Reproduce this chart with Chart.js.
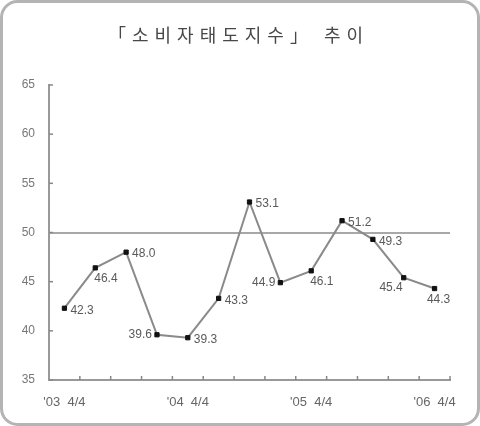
<!DOCTYPE html>
<html>
<head>
<meta charset="utf-8">
<script src="https://cdn.jsdelivr.net/npm/chart.js@4"></script>
<style>
  html, body { margin: 0; padding: 0; background: #fff; }
  #wrap { width: 480px; height: 426px; position: relative; }
</style>
</head>
<body>
<div id="wrap"><canvas id="myChart" width="480" height="426"></canvas></div>
<script>
// 분기별 소비자태도지수
const quarters = ["'03 4/4", "'04 1/4", "'04 2/4", "'04 3/4", "'04 4/4",
                  "'05 1/4", "'05 2/4", "'05 3/4", "'05 4/4",
                  "'06 1/4", "'06 2/4", "'06 3/4", "'06 4/4"];
const values = [42.3, 46.4, 48.0, 39.6, 39.3, 43.3, 53.1, 44.9, 46.1, 51.2, 49.3, 45.4, 44.3];
const shownLabels = [0, 4, 8, 12];
const yTicks = [35, 40, 45, 50, 55, 60, 65];
const baseline = 50;
const title = '「소비자태도지수」 추이';

// where each value label sits next to its point
const labelSide = ['r', 'br', 'r', 'l', 'r', 'r', 'r', 'l', 'br', 'r', 'r', 'lb', 'b'];

const framePlugin = {
    id: 'frame',
    beforeDraw(chart) {
        const c = chart.ctx;
        c.save();
        c.fillStyle = '#fff';
        c.fillRect(0, 0, chart.width, chart.height);
        c.strokeStyle = '#b4b4b4';
        c.lineWidth = 3;
        c.beginPath();
        c.roundRect(1.5, 1.5, chart.width - 3, chart.height - 3, 16);
        c.stroke();
        // title
        c.fillStyle = '#484848';
        c.font = '18px "Noto Sans CJK KR"';
        c.letterSpacing = '6px';
        c.textAlign = 'left';
        c.textBaseline = 'middle';
        c.fillText(title, 108, 35);
        c.restore();
    }
};

const extrasPlugin = {
    id: 'extras',
    afterDatasetsDraw(chart) {
        const c = chart.ctx;
        const x = chart.scales.x, y = chart.scales.y;
        c.save();
        // inward tick marks
        c.strokeStyle = '#888';
        c.lineWidth = 1.5;
        yTicks.forEach(v => {
            const py = y.getPixelForValue(v);
            c.beginPath(); c.moveTo(x.left, py); c.lineTo(x.left + 4, py); c.stroke();
        });
        const step = x.getPixelForValue(1) - x.getPixelForValue(0);
        for (let i = 1; i <= quarters.length; i++) {
            const px = x.getPixelForValue(i) - step / 2;
            c.beginPath(); c.moveTo(px, y.bottom); c.lineTo(px, y.bottom - 4); c.stroke();
        }
        // value labels
        c.fillStyle = '#5a5a5a';
        c.font = '12px "Liberation Sans"';
        c.textBaseline = 'middle';
        const pts = chart.getDatasetMeta(0).data;
        pts.forEach((p, i) => {
            const t = values[i].toFixed(1);
            let tx = p.x, ty = p.y, al = 'left';
            switch (labelSide[i]) {
                case 'r': tx += 6; ty += 2; break;
                case 'br': tx -= 1; ty += 11; break;
                case 'l': tx -= 5; al = 'right'; break;
                case 'lb': tx -= 1; ty += 10; al = 'right'; break;
                case 'b': tx += 4; ty += 11; al = 'center'; break;
            }
            c.textAlign = al;
            c.fillText(t, tx, ty);
        });
        c.restore();
    }
};

const config = {
    type: 'line',
    data: {
        labels: quarters,
        datasets: [{
            data: values,
            borderColor: '#8a8a8a',
            borderWidth: 2,
            pointStyle: 'rect',
            pointRadius: 3,
            pointBackgroundColor: '#111',
            pointBorderColor: '#111',
            pointBorderWidth: 1,
            tension: 0
        }]
    },
    options: {
        responsive: false,
        animation: false,
        layout: { padding: { top: 85, left: 0, right: 30, bottom: 0 } },
        plugins: { legend: { display: false }, tooltip: { enabled: false } },
        scales: {
            x: {
                offset: true,
                afterFit: s => { s.height = 46; },
                border: { color: '#999', width: 2 },
                grid: { display: false },
                ticks: {
                    autoSkip: false, maxRotation: 0, padding: 7,
                    color: '#666', font: { family: 'Liberation Sans', size: 13 },
                    callback: (v, i) => shownLabels.includes(i) ? quarters[i].replace(' ', '  ') : ''
                }
            },
            y: {
                min: 35, max: 65,
                afterFit: s => { s.width = 49; },
                afterBuildTicks: s => { s.ticks = yTicks.map(v => ({ value: v })); },
                border: { color: '#999', width: 2 },
                grid: {
                    drawTicks: false,
                    color: ctx => ctx.tick && ctx.tick.value === baseline ? '#a8a8a8' : 'rgba(0,0,0,0)',
                    lineWidth: 2
                },
                ticks: { padding: 14, color: '#777', font: { family: 'Liberation Sans', size: 12 } }
            }
        }
    },
    plugins: [framePlugin, extrasPlugin]
};

new Chart(document.querySelector('#myChart').getContext('2d'), config);
</script>
</body>
</html>
